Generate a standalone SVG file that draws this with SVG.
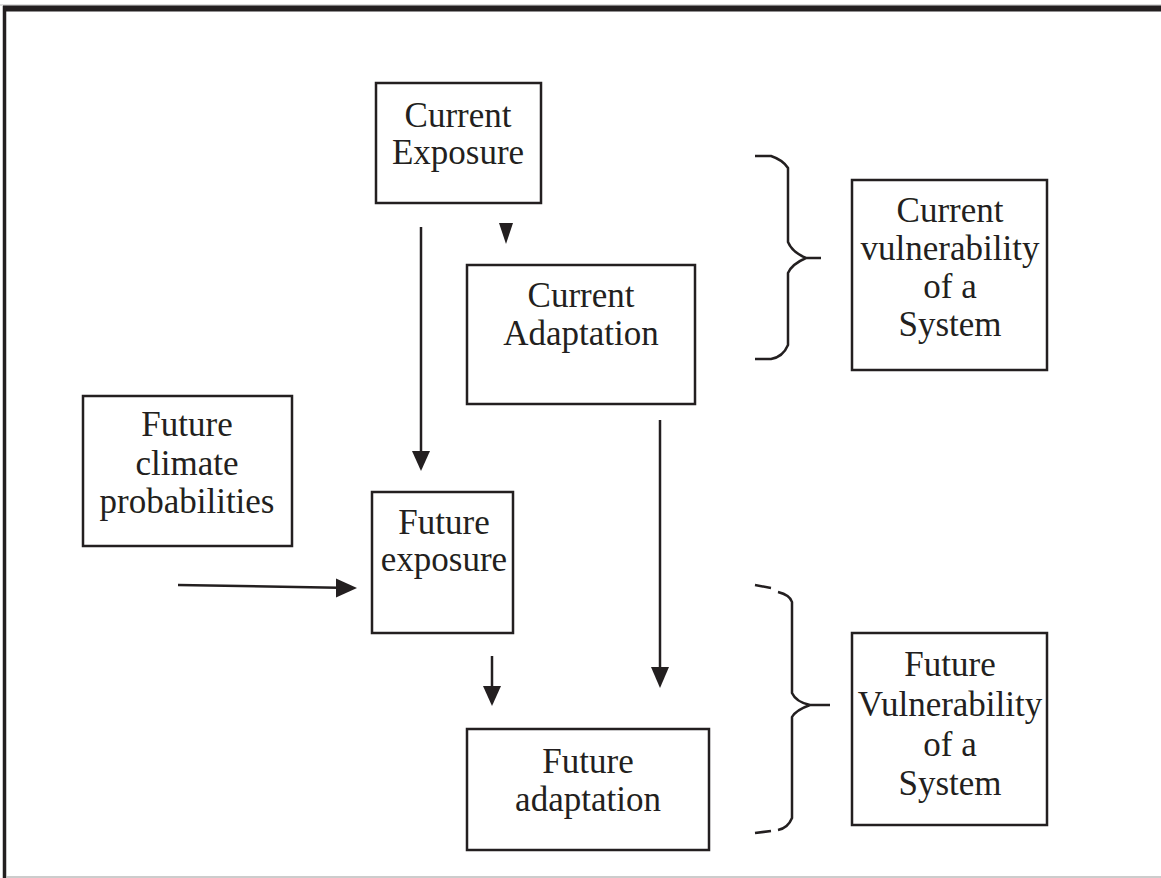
<svg xmlns="http://www.w3.org/2000/svg" width="1161" height="878" viewBox="0 0 1161 878">
<style>
.box{fill:#fff;stroke:#231f20;stroke-width:2.5}
.t{font-family:"Liberation Serif","Times New Roman",serif;font-size:35px;fill:#231f20;text-anchor:middle}
.ln{stroke:#231f20;stroke-width:2.5;fill:none}
.br{stroke:#231f20;stroke-width:2.5;fill:none;stroke-linecap:butt}
.ah{fill:#231f20}
</style>
<rect x="0" y="0" width="1161" height="878" fill="#fff"/>
<g id="frame">
<line x1="0" y1="5" x2="1161" y2="5" stroke="#bbb" stroke-width="1"/>
<line x1="3" y1="8.5" x2="1161" y2="8.5" stroke="#231f20" stroke-width="6"/>
<line x1="4.5" y1="6" x2="4.5" y2="878" stroke="#231f20" stroke-width="3.5"/>
<line x1="6" y1="877" x2="1161" y2="877" stroke="#bbb" stroke-width="1.5"/>
</g>
<g id="connectors">
<line class="ln" x1="421" y1="227" x2="421" y2="452"/>
<path class="ah" d="M412,451 L430,451 L421,471 Z"/>
<path class="ah" d="M499,223 L513,223 L506,244 Z"/>
<line class="ln" x1="660" y1="420" x2="660" y2="668"/>
<path class="ah" d="M651,667 L669,667 L660,688 Z"/>
<line class="ln" x1="492" y1="656" x2="492" y2="687"/>
<path class="ah" d="M483,686 L501,686 L492,706 Z"/>
<line class="ln" x1="178" y1="585" x2="338" y2="587.7"/>
<path class="ah" d="M336,578.5 L357,588 L336,597.5 Z"/>
<path class="br" d="M755,156 L771,156 Q783,160 788,168 L788,242 Q792,252 806,258 L821,258 M806,258 Q792,264 788,273 L788,345 Q783,357 771,359 L755,359"/>
<path class="br" d="M755,585 L771,588 M778,592 Q790,595 792,602 L792,693 Q796,702 810,705 L830,705 M810,705 Q796,710 792,717 L792,818 Q788,828 778,830 M771,831 L755,833"/>
</g>
<g id="current-exposure">
<rect class="box" x="376" y="83" width="165" height="120"/>
<text class="t" x="458" y="127">Current</text>
<text class="t" x="458" y="164">Exposure</text>
</g>
<g id="current-adaptation">
<rect class="box" x="467" y="265" width="228" height="139"/>
<text class="t" x="581" y="307">Current</text>
<text class="t" x="581" y="345">Adaptation</text>
</g>
<g id="current-vulnerability">
<rect class="box" x="852" y="180" width="195" height="190"/>
<text class="t" x="950" y="222">Current</text>
<text class="t" x="950" y="260">vulnerability</text>
<text class="t" x="950" y="298">of a</text>
<text class="t" x="950" y="336">System</text>
</g>
<g id="future-climate">
<rect class="box" x="83" y="396" width="209" height="150"/>
<text class="t" x="187" y="436">Future</text>
<text class="t" x="187" y="475">climate</text>
<text class="t" x="187" y="513">probabilities</text>
</g>
<g id="future-exposure">
<rect class="box" x="372" y="492" width="141" height="141"/>
<text class="t" x="444" y="534">Future</text>
<text class="t" x="444" y="571">exposure</text>
</g>
<g id="future-adaptation">
<rect class="box" x="467" y="729" width="242" height="121"/>
<text class="t" x="588" y="773">Future</text>
<text class="t" x="588" y="811">adaptation</text>
</g>
<g id="future-vulnerability">
<rect class="box" x="852" y="633" width="195" height="192"/>
<text class="t" x="950" y="676">Future</text>
<text class="t" x="950" y="716">Vulnerability</text>
<text class="t" x="950" y="756">of a</text>
<text class="t" x="950" y="795">System</text>
</g>
</svg>
